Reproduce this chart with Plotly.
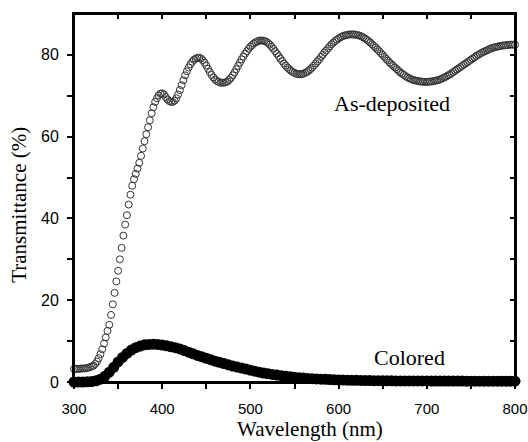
import plotly.graph_objects as go

# Wavelength grids (nm)
wl_asdep = list(range(300, 802, 2))
wl_colored = list(range(300, 805, 5))

# Tick positions / labels
x_tickvals = [300, 400, 500, 600, 700, 800]
x_ticktext = ["300", "400", "500", "600", "700", "800"]
y_tickvals = [0, 20, 40, 60, 80]

# Transmittance (%) of the as-deposited film, every 2 nm from 300 to 800 nm
t_asdep = [
    3.2, 3.2, 3.2, 3.2, 3.3, 3.3, 3.3, 3.4, 3.5, 3.6,
    3.8, 4.0, 4.4, 5.0, 5.8, 6.8, 8.0, 9.4, 10.9, 12.5,
    14.0, 16.4, 19.0, 21.8, 24.6, 27.2, 30.0, 32.8, 35.8, 38.5,
    40.8, 43.4, 45.8, 48.0, 49.6, 50.9, 52.2, 53.6, 55.3, 57.1,
    58.9, 60.6, 62.3, 64.0, 65.7, 67.2, 68.5, 69.4, 70.1, 70.5,
    70.6, 70.3, 69.7, 69.1, 68.7, 68.5, 68.5, 68.8, 69.4, 70.3,
    71.4, 72.6, 73.8, 75.0, 76.0, 76.9, 77.7, 78.3, 78.8, 79.1,
    79.3, 79.3, 79.1, 78.7, 78.1, 77.4, 76.6, 75.8, 75.1, 74.5,
    74.0, 73.6, 73.4, 73.2, 73.2, 73.2, 73.3, 73.5, 73.9, 74.4,
    75.0, 75.7, 76.5, 77.3, 78.1, 78.9, 79.6, 80.3, 80.9, 81.5,
    82.0, 82.4, 82.8, 83.1, 83.3, 83.5, 83.5, 83.5, 83.4, 83.2,
    82.9, 82.5, 82.0, 81.5, 80.9, 80.3, 79.7, 79.1, 78.5, 77.9,
    77.4, 76.9, 76.5, 76.1, 75.8, 75.6, 75.4, 75.3, 75.3, 75.3,
    75.4, 75.6, 75.8, 76.1, 76.5, 76.9, 77.4, 77.9, 78.4, 78.9,
    79.5, 80.0, 80.6, 81.1, 81.6, 82.1, 82.6, 83.0, 83.4, 83.7,
    84.0, 84.3, 84.5, 84.7, 84.8, 84.9, 85.0, 85.0, 85.0, 85.0,
    84.9, 84.8, 84.7, 84.5, 84.3, 84.0, 83.7, 83.4, 83.0, 82.6,
    82.2, 81.8, 81.3, 80.9, 80.4, 80.0, 79.5, 79.0, 78.6, 78.1,
    77.7, 77.3, 76.9, 76.5, 76.1, 75.7, 75.4, 75.1, 74.8, 74.5,
    74.3, 74.1, 73.9, 73.8, 73.7, 73.6, 73.5, 73.5, 73.4, 73.4,
    73.4, 73.4, 73.5, 73.5, 73.6, 73.7, 73.8, 73.9, 74.1, 74.3,
    74.5, 74.7, 75.0, 75.2, 75.5, 75.8, 76.1, 76.4, 76.7, 77.0,
    77.3, 77.6, 77.9, 78.2, 78.5, 78.8, 79.1, 79.4, 79.7, 80.0,
    80.2, 80.5, 80.7, 80.9, 81.1, 81.3, 81.5, 81.7, 81.8, 81.9,
    82.0, 82.1, 82.2, 82.3, 82.3, 82.4, 82.4, 82.5, 82.5, 82.5,
    82.5,
]

# Transmittance (%) of the colored film, every 5 nm from 300 to 800 nm
t_colored = [
    0.0, 0.0, 0.0, 0.05, 0.1, 0.3, 0.7, 1.4, 2.4, 3.6,
    4.9, 6.0, 7.0, 7.8, 8.4, 8.8, 9.1, 9.2, 9.25, 9.2,
    9.05, 8.85, 8.6, 8.4, 8.1, 7.7, 7.3, 6.9, 6.5, 6.15,
    5.8, 5.45, 5.1, 4.8, 4.5, 4.2, 3.9, 3.65, 3.4, 3.15,
    2.9, 2.65, 2.4, 2.2, 2.0, 1.85, 1.7, 1.55, 1.4, 1.27,
    1.15, 1.05, 0.95, 0.87, 0.8, 0.75, 0.7, 0.65, 0.6, 0.55,
    0.5, 0.48, 0.45, 0.42, 0.4, 0.38, 0.36, 0.34, 0.32, 0.31,
    0.3, 0.29, 0.28, 0.27, 0.27, 0.26, 0.26, 0.25, 0.25, 0.25,
    0.25, 0.24, 0.24, 0.23, 0.23, 0.23, 0.22, 0.22, 0.22, 0.21,
    0.21, 0.21, 0.2, 0.2, 0.2, 0.2, 0.2, 0.2, 0.2, 0.2,
    0.2,
]

x_title = "Wavelength (nm)"
y_title = "Transmittance (%)"
label_asdep = "As-deposited"
label_colored = "Colored"

SANS = "Liberation Sans, Arial, sans-serif"
SERIF = "Liberation Serif, Times New Roman, serif"

fig = go.Figure()
fig.add_trace(go.Scatter(
    x=wl_colored, y=t_colored, mode="markers", name=label_colored,
    marker=dict(symbol="circle", size=11, color="black"),
    cliponaxis=False,
))
fig.add_trace(go.Scatter(
    x=wl_asdep, y=t_asdep, mode="markers", name=label_asdep,
    marker=dict(symbol="circle-open", size=7, color="#333333", line=dict(width=1)),
    cliponaxis=False,
))
# invisible trace so the mirrored top/right axes are drawn
fig.add_trace(go.Scatter(
    x=[300], y=[0], xaxis="x2", yaxis="y2", mode="markers",
    marker=dict(opacity=0), showlegend=False, hoverinfo="skip",
))

tick_common = dict(tickcolor="black", tickwidth=1.5, ticklen=5,
                   showgrid=False, zeroline=False, showline=True,
                   linecolor="black", linewidth=2, automargin=False)

fig.update_layout(
    width=528, height=442,
    margin=dict(l=74, r=13, t=14, b=60, autoexpand=False),
    paper_bgcolor="white", plot_bgcolor="white",
    showlegend=False,
    xaxis=dict(range=[300, 800], tickvals=x_tickvals, ticktext=x_ticktext,
               ticks="outside", ticklabeloverflow="allow", mirror=True,
               minor=dict(tickvals=[350, 450, 550, 650, 750], ticks="outside",
                          ticklen=5, tickwidth=1.5, tickcolor="black"),
               tickfont=dict(family=SANS, size=15, color="black"),
               ticklabelstandoff=7, **tick_common),
    yaxis=dict(range=[0, 90], ticks="outside", mirror=True,
               tickvals=y_tickvals,
               minor=dict(tickvals=[10, 30, 50, 70], ticks="outside",
                          ticklen=5, tickwidth=1.5, tickcolor="black"),
               tickfont=dict(family=SANS, size=16, color="black"),
               ticklabelstandoff=5, **tick_common),
    xaxis2=dict(range=[300, 800], overlaying="x", side="top", anchor="y2",
                tickvals=[350, 400, 450, 500, 550, 600, 650, 700, 750],
                ticks="inside", showticklabels=False, **tick_common),
    yaxis2=dict(range=[0, 90], overlaying="y", side="right", anchor="x2",
                tickvals=[10, 20, 30, 40, 50, 60, 70, 80],
                ticks="inside", showticklabels=False, **tick_common),
    shapes=[
        dict(type="rect", xref="paper", yref="paper", x0=0, x1=1, y0=0, y1=1,
             line=dict(color="black", width=2), fillcolor="rgba(0,0,0,0)",
             layer="above"),
    ],
    annotations=[
        dict(text=label_asdep, x=661, y=68.0, xref="x", yref="y",
             showarrow=False, font=dict(family=SERIF, size=22, color="black")),
        dict(text=label_colored, x=680.5, y=6.0, xref="x", yref="y",
             showarrow=False, font=dict(family=SERIF, size=22, color="black")),
        dict(text=x_title, x=0.535, y=-0.127, xref="paper", yref="paper",
             xanchor="center", yanchor="middle", showarrow=False,
             font=dict(family=SERIF, size=21, color="black")),
        dict(text=y_title, x=-0.125, y=0.481, xref="paper", yref="paper",
             xanchor="center", yanchor="middle", textangle=-90, showarrow=False,
             font=dict(family=SERIF, size=21, color="black")),
    ],
)

fig.write_html(
    "out.html",
    config={"displayModeBar": False},
    post_script="document.body.style.margin='0';document.body.style.padding='0';",
)
